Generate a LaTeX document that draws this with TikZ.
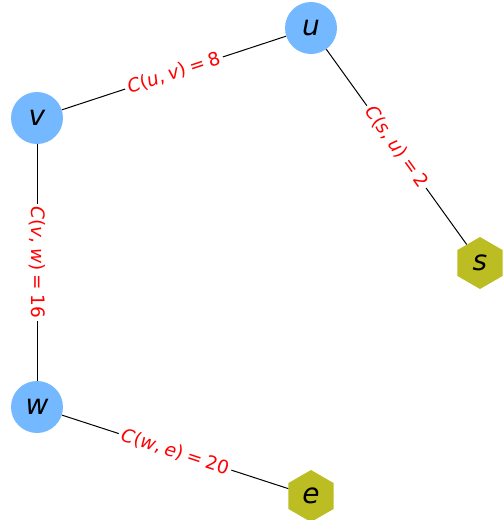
\documentclass[tikz,border=0pt]{standalone}
\usepackage{fontspec}
\newfontfamily\dv{DejaVu Sans}
\usetikzlibrary{shapes.geometric}
\definecolor{nodeblue}{RGB}{116,185,255}
\definecolor{olivey}{RGB}{188,189,34}
\newcommand{\mi}[1]{{\itshape #1}}
\newcommand{\gp}{\hspace{0.24em}}
\tikzset{
  cnode/.style={circle, fill=nodeblue, draw=none, minimum size=52pt, inner sep=0pt, font=\dv\fontsize{28}{32}\selectfont\itshape},
  hnode/.style={regular polygon, regular polygon sides=6, shape border rotate=30, fill=olivey, draw=none, minimum size=52pt, inner sep=0pt, font=\dv\fontsize{28}{32}\selectfont\itshape},
  lbl/.style={fill=white, text=red, inner sep=3pt, font=\dv\fontsize{18.5}{22}\selectfont},
  edge/.style={draw=black, line width=1pt}
}
\begin{document}
\begin{tikzpicture}[x=1pt,y=-1pt]
\useasboundingbox (0,0) rectangle (503,520);
\node[cnode] (u) at (311,28) {u};
\node[cnode] (v) at (37,118) {v};
\node[cnode] (w) at (37,407) {w};
\node[hnode] (s) at (480,263) {s};
\node[hnode] (e) at (311,496) {e};
\draw[edge] (u) -- node[lbl, rotate=18.2] {\mi{C}(\mi{u},\gp\mi{v})\gp=\gp8} (v);
\draw[edge] (u) -- node[lbl, rotate=-54.3] {\mi{C}(\mi{s},\gp\mi{u})\gp=\gp2} (s);
\draw[edge] (v) -- node[lbl, rotate=-90] {\mi{C}(\mi{v},\gp\mi{w})\gp=\gp16} (w);
\draw[edge] (w) -- node[lbl, rotate=-18.0] {\mi{C}(\mi{w},\gp\mi{e})\gp=\gp20} (e);
\end{tikzpicture}
\end{document}
